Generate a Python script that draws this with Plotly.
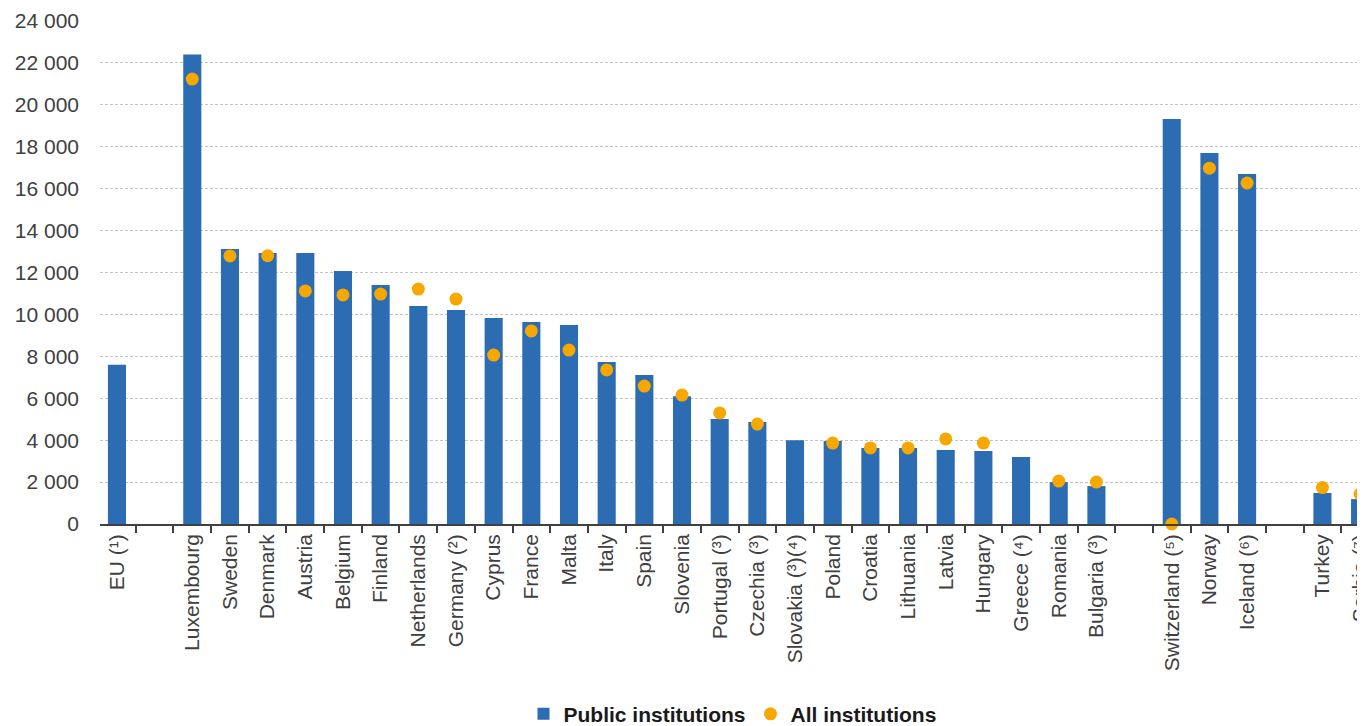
import plotly.graph_objects as go

categories = ["EU (¹)", " ", "Luxembourg", "Sweden", "Denmark", "Austria", "Belgium", "Finland",
              "Netherlands", "Germany (²)", "Cyprus", "France", "Malta", "Italy", "Spain", "Slovenia",
              "Portugal (³)", "Czechia (³)", "Slovakia (³)(⁴)", "Poland", "Croatia", "Lithuania",
              "Latvia", "Hungary", "Greece (⁴)", "Romania", "Bulgaria (³)", "  ",
              "Switzerland (⁵)", "Norway", "Iceland (⁶)", "   ", "Turkey", "Serbia (⁷)"]

public_institutions = [7600, None, 22400, 13120, 12930, 12930, 12070, 11400,
                       10400, 10210, 9830, 9640, 9490, 7730, 7110, 6100,
                       5010, 4870, 4000, 3960, 3630, 3630,
                       3530, 3480, 3200, 2000, 1810, None,
                       19320, 17700, 16700, None, 1480, 1190]

all_institutions = [None, None, 21230, 12790, 12800, 11120, 10930, 10970,
                    11210, 10730, 8060, 9210, 8300, 7350, 6580, 6150,
                    5300, 4770, None, 3860, 3630, 3630,
                    4060, 3860, None, 2050, 2000, None,
                    0, 16980, 16270, None, 1740, 1430]

y_ticks = list(range(0, 24001, 2000))

FONT = "Liberation Sans, Arial, sans-serif"
BLUE = "#2B6CB3"
ORANGE = "#F6A800"
TEXT = "#404040"

fig = go.Figure()
fig.add_trace(go.Bar(
    x=categories, y=public_institutions, name="Public institutions",
    marker=dict(color=BLUE, line=dict(width=0)),
))
fig.add_trace(go.Scatter(
    x=categories, y=all_institutions, name="All institutions", mode="markers",
    marker=dict(color=ORANGE, size=13, line=dict(width=0)),
    cliponaxis=False,
))

fig.update_layout(
    template="none",
    width=1357, height=718,
    margin=dict(l=92, r=0, t=13, b=202, autoexpand=False),
    paper_bgcolor="white", plot_bgcolor="white",
    font=dict(family=FONT, size=21, color=TEXT),
    separators=", ",
    bargap=0.52,
    showlegend=True,
    legend=dict(orientation="h", x=0.5, xanchor="center", y=-0.378, yanchor="middle",
                font=dict(family=FONT, size=21, color="#1a1a1a", weight="bold"),
                itemwidth=30, bgcolor="rgba(0,0,0,0)"),
)
fig.update_xaxes(
    type="category", categoryorder="array", categoryarray=categories,
    range=[-0.45, 33.13], automargin=False,
    showline=True, linecolor="#404040", linewidth=1.5,
    ticks="outside", tickson="boundaries", ticklen=7, tickcolor="#404040", tickwidth=1.5,
    tickangle=-90, showgrid=False, zeroline=False,
    tickfont=dict(family=FONT, size=21, color=TEXT),
)
fig.update_yaxes(
    range=[0, 24000], tickvals=y_ticks, tickformat=",d", automargin=False,
    showline=False, ticks="", ticklabelstandoff=20,
    showgrid=True, gridcolor="#c4c4c4", gridwidth=1, griddash="3px,2px",
    zeroline=False,
    tickfont=dict(family=FONT, size=21, color=TEXT),
)

fig.write_html("out.html")
